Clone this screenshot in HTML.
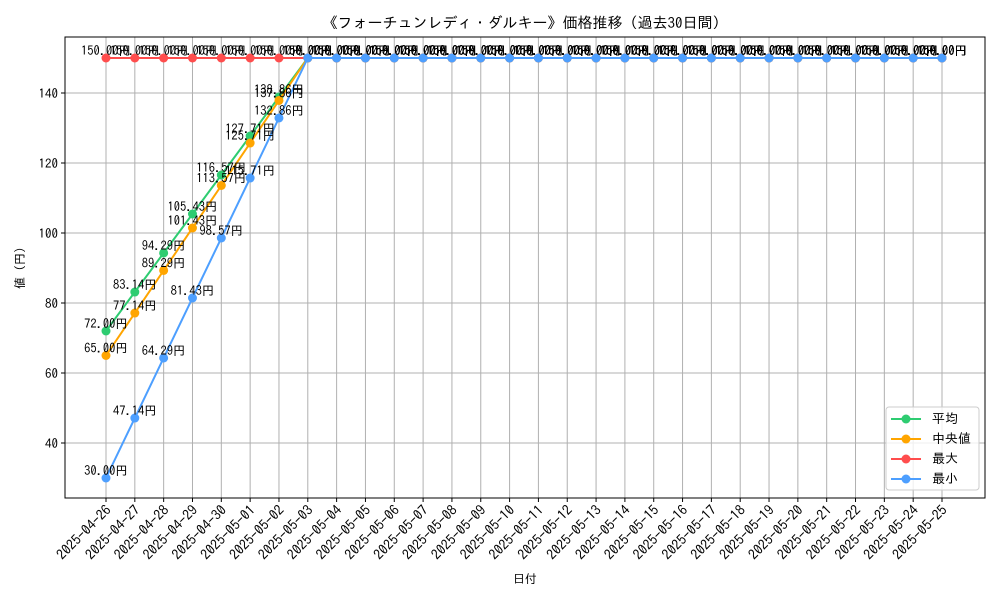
<!DOCTYPE html>
<html><head><meta charset="utf-8"><style>
body{margin:0;background:#fff;}
svg text{font-family:"IPAGothic","Noto Sans CJK JP",sans-serif;}
</style></head><body>
<svg id="chart" width="1000" height="600" xmlns="http://www.w3.org/2000/svg">
<rect width="1000" height="600" fill="#fff"/>
<text x="525" y="28" font-size="15" text-anchor="middle">《フォーチュンレディ・ダルキー》価格推移（過去30日間）</text>
<g id="grid"></g><g id="axes"></g><g id="series"></g><g id="labels"></g>
<text x="525" y="583" font-size="12" text-anchor="middle">日付</text>
<text x="0" y="0" font-size="12" text-anchor="middle" transform="translate(24,268) rotate(-90)">値 (円)</text>
<g>
<rect x="886" y="407" width="93" height="83" rx="3" fill="#fff" fill-opacity="0.8" stroke="#ccc"/>
<line x1="891" y1="419" x2="921" y2="419" stroke="#2ecc71" stroke-width="2"/><circle cx="906" cy="419" r="4.5" fill="#2ecc71"/><text x="932" y="423" font-size="13">平均</text>
<line x1="891" y1="439" x2="921" y2="439" stroke="#ffa500" stroke-width="2"/><circle cx="906" cy="439" r="4.5" fill="#ffa500"/><text x="932" y="443" font-size="13">中央値</text>
<line x1="891" y1="459" x2="921" y2="459" stroke="#ff4d4d" stroke-width="2"/><circle cx="906" cy="459" r="4.5" fill="#ff4d4d"/><text x="932" y="463" font-size="13">最大</text>
<line x1="891" y1="479" x2="921" y2="479" stroke="#4d9fff" stroke-width="2"/><circle cx="906" cy="479" r="4.5" fill="#4d9fff"/><text x="932" y="483" font-size="13">最小</text>
</g>
</svg>
<script>
const dates=["2025-04-26","2025-04-27","2025-04-28","2025-04-29","2025-04-30","2025-05-01","2025-05-02","2025-05-03","2025-05-04","2025-05-05","2025-05-06","2025-05-07","2025-05-08","2025-05-09","2025-05-10","2025-05-11","2025-05-12","2025-05-13","2025-05-14","2025-05-15","2025-05-16","2025-05-17","2025-05-18","2025-05-19","2025-05-20","2025-05-21","2025-05-22","2025-05-23","2025-05-24","2025-05-25"];
const rest=new Array(22).fill(150);
const avgValues=[72.00,83.14,94.29,105.43,116.57,127.71,138.86].concat(rest.concat([150]));
const medianValues=[65.00,77.14,89.29,101.43,113.57,125.71,137.86].concat(rest.concat([150]));
const maxValues=[150,150,150,150,150,150,150].concat(rest.concat([150]));
const minValues=[30.00,47.14,64.29,81.43,98.57,115.71,132.86].concat(rest.concat([150]));
const yTicks=[40,60,80,100,120,140];
const NS="http://www.w3.org/2000/svg";
const L=65,R=985,T=37,B=498;
const x=i=>106+i*(942-106)/(dates.length-1);
const y=v=>93+(140-v)*3.5;
function mk(tag,attrs,parent){const e=document.createElementNS(NS,tag);for(const k in attrs)e.setAttribute(k,attrs[k]);parent.appendChild(e);return e;}
const grid=document.getElementById('grid'),axes=document.getElementById('axes'),series=document.getElementById('series'),labels=document.getElementById('labels');
dates.forEach((d,i)=>{
 const g=mk('line',{x1:x(i),x2:x(i),y1:T,y2:B,stroke:'#b0b0b0','stroke-width':1},grid);
 
 
 mk('line',{x1:x(i),x2:x(i),y1:B,y2:B+4,stroke:'#000'},axes);
 const t=mk('text',{x:0,y:0,'font-size':14,'text-anchor':'end',transform:`translate(${x(i)+6},${B+13}) rotate(-45)`},axes);
 t.textContent=d;
 
 
});
yTicks.forEach(v=>{
 const g=mk('line',{x1:L,x2:R,y1:y(v),y2:y(v),stroke:'#b0b0b0','stroke-width':1},grid);
 
 
 mk('line',{x1:L-4,x2:L,y1:y(v),y2:y(v),stroke:'#000'},axes);
 const t=mk('text',{x:L-7,y:y(v)+5,'font-size':13,'text-anchor':'end'},axes);
 t.textContent=v;
 
 
});
const frame=mk('rect',{x:L,y:T,width:R-L,height:B-T,fill:'none',stroke:'#000','stroke-width':1},axes);


const S=[["avg",avgValues,"#2ecc71"],["median",medianValues,"#ffa500"],["max",maxValues,"#ff4d4d"],["min",minValues,"#4d9fff"]];
S.forEach(([n,vals,c])=>{
 const p=mk('polyline',{points:vals.map((v,i)=>x(i)+','+y(v)).join(' '),fill:'none',stroke:c,'stroke-width':2},series);
 
 
 vals.forEach((v,i)=>{
  const m=mk('circle',{cx:x(i),cy:y(v),r:4.5,fill:c},series);
  
  
  const t=mk('text',{x:x(i),y:y(v)-3,'font-size':12.5,'text-anchor':'middle'},labels);
  t.textContent=v.toFixed(2)+'円';
  
  
 });
});
</script>
</body></html>
